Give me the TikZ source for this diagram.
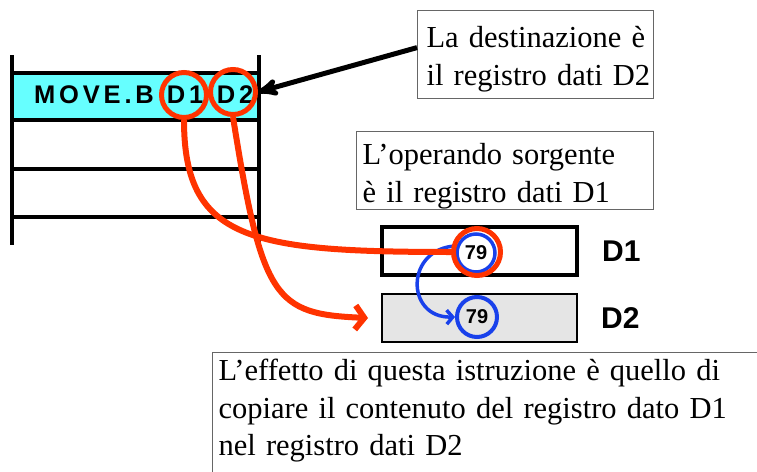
\documentclass[tikz,border=0pt]{standalone}
\usepackage{fontspec}
\setmainfont{Liberation Serif}
\newfontfamily\regfont{Liberation Sans}
\newfontfamily\instrfont[LetterSpace=15]{Liberation Sans}
\usepackage{xcolor}
\usetikzlibrary{shapes, arrows, arrows.meta, positioning}

\definecolor{rowcyan}{RGB}{102,255,255}
\definecolor{opred}{RGB}{255,51,0}
\definecolor{valblue}{RGB}{25,65,235}
\definecolor{reggray}{RGB}{229,229,229}

\begin{document}
\begin{tikzpicture}[x=1pt,y=-1pt,>=stealth',
      note node/.style={draw=black!60,line width=1.2pt,anchor=north west,align=left,
        inner ysep=0pt,font=\fontsize{30.5}{37.5}\selectfont},
      op node/.style={anchor=base,inner sep=0pt,font=\instrfont\bfseries\fontsize{25.5}{25}\selectfont},
      ring node/.style={circle,draw=opred,line width=5pt,minimum size=45pt,inner sep=0pt},
      reg node/.style={draw,minimum width=195pt,minimum height=48pt,inner sep=0pt},
      val node/.style={circle,draw=valblue,line width=4pt,minimum size=40pt,inner sep=0pt,
        font=\regfont\bfseries\fontsize{20}{20}\selectfont},
      name node/.style={inner sep=0pt,font=\regfont\bfseries\fontsize{30}{30}\selectfont}]

    \useasboundingbox (0,0) rectangle (757,471);
    \clip (0,0) rectangle (757,471);

    % memoria
    \fill[rowcyan] (12,73) rectangle (259,120);
    \foreach \y in {73,120,169,217}
        \draw[line width=4pt] (12,\y) -- (259,\y);
    \draw[line width=4pt] (12,55) -- (12,245) (259,55) -- (259,245);

    \node[op node] (mv) at (94,103) {MOVE.B};
    \node[op node] (op1) at (185,103) {D1};
    \node[op node] (op2) at (235,103) {D2};
    \node[ring node] (r1) at (184,95) {};
    \node[ring node] (r2) at (233,92) {};

    % registri
    \node[reg node, line width=4pt] (reg1) at (479.5,251) {};
    \node[reg node, fill=reggray, line width=2pt] (reg2) at (479.5,318) {};
    \node[name node, right=23pt of reg1] (n1) {D1};
    \node[name node, right=23pt of reg2] (n2) {D2};
    \node[val node, minimum size=38pt, line width=3.5pt] (v1) at (476,253) {79};
    \node[val node] (v2) at (477,317) {79};
    \coordinate (tip) at ([xshift=-13pt]reg2.west);

    % note
    \node[note node, text width=218pt, inner xsep=9pt, text height=37pt, text depth=51pt]
        (dest) at (417,10) {\mbox{La destinazione è}\\\mbox{il registro dati D2}};
    \node[note node, text width=285pt, inner xsep=6pt, text height=33pt, text depth=45pt]
        (src) at (356,131) {\mbox{L’operando sorgente}\\\mbox{è il registro dati D1}};
    \node[note node, text width=560pt, inner xsep=6pt, text height=28pt, text depth=130pt]
        (eff) at (212,352) {\mbox{L’effetto di questa istruzione è quello di}\\
        \mbox{copiare il contenuto del registro dato D1}\\\mbox{nel registro dati D2}};

    \draw[->, line width=5pt] ([yshift=7pt]dest.west) -- (r2.east);
    \draw[valblue, line width=3.5pt, -{Straight Barb[length=6pt,width=14pt]}]
        (v1.160) .. controls (405,248) and (405,318) .. (v2.west);
    \draw[opred, line width=6pt] (r1.south) .. controls (184,240) and (250,252) .. (452,252);
    \draw[opred, line width=6pt, -{Straight Barb[length=9pt,width=24pt]}]
        (r2.south) .. controls (262,300) and (275,314) .. (tip);
    \node[ring node, minimum size=47pt] (r3) at (477,252) {};
\end{tikzpicture}
\end{document}
